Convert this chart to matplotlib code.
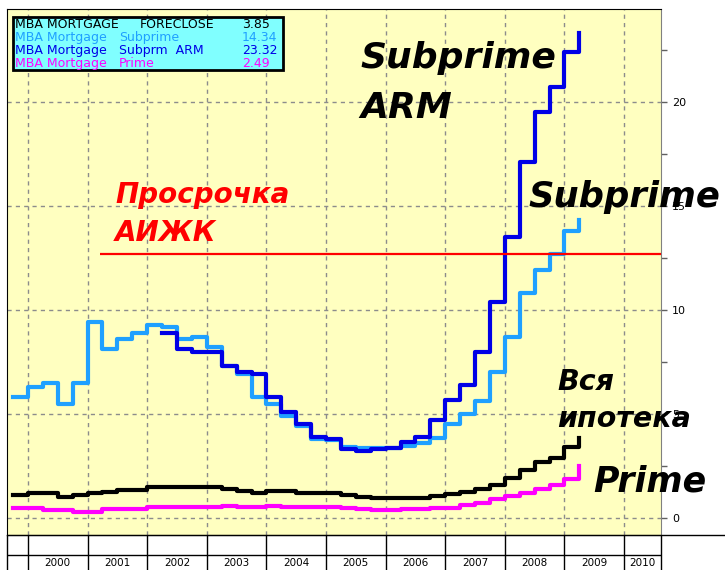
import numpy as np
import matplotlib
matplotlib.use('Agg')
import matplotlib.pyplot as plt
from matplotlib.patches import Rectangle

# quarterly series, % of loans in foreclosure (MBA)
quarters = np.arange(1999.75, 2009.26, 0.25)
subprime = [5.8, 6.3, 6.5, 5.5, 6.5,
            9.4, 8.1, 8.6, 8.9,
            9.3, 9.2, 8.6, 8.7,
            8.2, 7.3, 6.9, 5.8,
            5.5, 4.9, 4.4, 3.8,
            3.75, 3.4, 3.35, 3.35,
            3.35, 3.45, 3.6, 3.85,
            4.5, 5.0, 5.6, 7.0,
            8.7, 10.8, 11.9, 12.7,
            13.8, 14.34]
arm_quarters = np.arange(2002.25, 2009.26, 0.25)
subprime_arm = [8.9, 8.1, 8.0,
                8.0, 7.3, 7.0, 6.9,
                5.8, 5.1, 4.5, 3.9,
                3.8, 3.3, 3.2, 3.3,
                3.35, 3.65, 3.9, 4.7,
                5.65, 6.4, 8.0, 10.4,
                13.5, 17.1, 19.5, 20.7,
                22.4, 23.32]
total = [1.1, 1.2, 1.2, 1.0, 1.1,
         1.2, 1.25, 1.35, 1.35,
         1.5, 1.5, 1.5, 1.5,
         1.5, 1.4, 1.3, 1.2,
         1.3, 1.3, 1.2, 1.2,
         1.2, 1.1, 1.0, 0.96,
         0.96, 0.96, 0.96, 1.05,
         1.15, 1.25, 1.4, 1.6,
         1.9, 2.3, 2.7, 2.9,
         3.4, 3.85]
prime = [0.48, 0.48, 0.38, 0.38, 0.3,
         0.3, 0.43, 0.43, 0.43,
         0.53, 0.53, 0.53, 0.53,
         0.53, 0.58, 0.53, 0.53,
         0.58, 0.53, 0.53, 0.53,
         0.53, 0.5, 0.45, 0.4,
         0.38, 0.43, 0.45, 0.48,
         0.5, 0.6, 0.72, 0.9,
         1.05, 1.2, 1.4, 1.6,
         1.85, 2.49]

aijk_level = 12.7      # АИЖК delinquency
aijk_start = 2001.2
years = list(range(2000, 2011))

legend_rows = [('MBA MORTGAGE', 'FORECLOSE', '3.85', 'black'),
               ('MBA Mortgage', 'Subprime', '14.34', '#1fa0ff'),
               ('MBA Mortgage', 'Subprm  ARM', '23.32', '#0000e6'),
               ('MBA Mortgage', 'Prime', '2.49', '#ff00ff')]

W, H = 725, 570
def px(x, y):
    return x / W, 1 - y / H

fig = plt.figure(figsize=(7.25, 5.7), dpi=100)
ax = fig.add_axes([7 / W, 35 / H, 654 / W, 526 / H])
ax.set_facecolor('#ffffc0')
ax.set_xlim(1999.648, 2010.62)
ax.set_ylim(-0.82, 24.47)

grid_kw = dict(color='#8c8c8c', lw=1, ls=(0, (3, 3)), zorder=1)
for yr in years:
    ax.axvline(yr, **grid_kw)
for v in [0, 5, 10, 15, 20]:
    ax.axhline(v, **grid_kw)

ax.plot(quarters, total, color='black', lw=3, drawstyle='steps-post', zorder=3)
ax.plot(quarters, prime, color='#ff00ff', lw=3, drawstyle='steps-post', zorder=3)
ax.plot(quarters, subprime, color='#1fa0ff', lw=3, drawstyle='steps-post', zorder=3)
ax.plot(arm_quarters, subprime_arm, color='#0000e6', lw=3, drawstyle='steps-post', zorder=4)
ax.hlines(aijk_level, aijk_start, 2010.62, color='#ff0000', lw=1.6, zorder=4)

ax.yaxis.tick_right()
ax.set_yticks([0, 5, 10, 15, 20])
ax.set_yticks(np.arange(0, 25, 2.5), minor=True)
ax.tick_params(axis='y', which='both', direction='out', length=4, width=1,
               color='#606060', labelsize=8, pad=4)
ax.set_xticks([])
for s in ['top', 'left', 'bottom']:
    ax.spines[s].set_color('black')
ax.spines['right'].set_color('#808080')

bi = dict(fontweight='bold', fontstyle='italic', family='DejaVu Sans', va='baseline')
fig.text(*px(360, 68), 'Subprime', fontsize=26, color='black', **bi)
fig.text(*px(360, 118), 'ARM', fontsize=26, color='black', **bi)
fig.text(*px(528, 207), 'Subprime', fontsize=25.5, color='black', **bi)
fig.text(*px(593, 492), 'Prime', fontsize=25, color='black', **bi)
fig.text(*px(115, 203), 'Просрочка', fontsize=20, color='#ff0000', **bi)
fig.text(*px(115, 241), 'АИЖК', fontsize=20, color='#ff0000', **bi)
fig.text(*px(557, 390), 'Вся', fontsize=20.5, color='black', **bi)
fig.text(*px(557, 427), 'ипотека', fontsize=20.5, color='black', **bi)

# legend box
x0, y0 = px(13, 70)
fig.patches.append(Rectangle((x0, y0), 270 / W, 53 / H, transform=fig.transFigure,
                             facecolor='#80ffff', edgecolor='black', lw=2, zorder=5))
for i, (a, b, val, c) in enumerate(legend_rows):
    yy = 25 + i * 12.7
    fig.text(*px(15, yy), a, color=c, fontsize=9, va='center', zorder=6)
    fig.text(*px(140 if i == 0 else 119, yy), b, color=c, fontsize=9, va='center', zorder=6)
    fig.text(*px(242, yy), val, color=c, fontsize=9, va='center', zorder=6)

# year table under the chart
tab = fig.add_axes([7 / W, 0, 654 / W, 35 / H])
tab.set_xlim(ax.get_xlim())
tab.set_ylim(0, 35)
tab.axis('off')
tab.vlines([1999.648] + years + [2010.62], 0, 35, color='black', lw=1, clip_on=False)
tab.hlines(15, 1999.648, 2010.62, color='black', lw=1)
for yr in years:
    tab.text(min(yr + 0.5, (yr + 2010.62) / 2), 7, str(yr), ha='center', va='center',
             fontsize=7.5)
fig.add_artist(plt.Line2D([7 / W, 1], [35 / H, 35 / H], color='black', lw=1,
                          transform=fig.transFigure))

fig.savefig('out.png', dpi=100, facecolor='white')
